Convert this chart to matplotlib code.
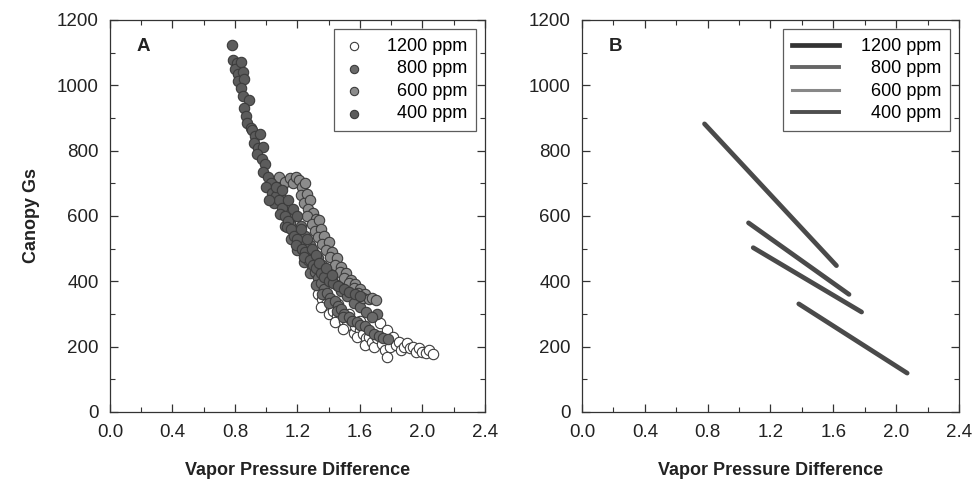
import matplotlib
matplotlib.use("Agg")
import matplotlib.pyplot as plt
from matplotlib.ticker import MultipleLocator

plt.rcParams['font.family'] = ['Liberation Sans', 'DejaVu Sans']

# ---- data ----
series_labels = ["1200 ppm", "800 ppm", "600 ppm", "400 ppm"]

# panel A: (vapor pressure difference, canopy Gs) scatter points
pts_1200 = [(1.33, 360), (1.36, 345), (1.38, 330), (1.41, 322), (1.40, 300), (1.43, 310),
            (1.45, 295), (1.47, 285), (1.44, 275), (1.50, 278), (1.52, 265), (1.54, 282),
            (1.49, 255), (1.56, 241), (1.57, 262), (1.60, 250), (1.58, 230), (1.62, 240),
            (1.64, 225), (1.63, 205), (1.66, 230), (1.68, 215), (1.69, 200), (1.71, 225),
            (1.73, 271), (1.74, 208), (1.76, 190), (1.77, 251), (1.77, 169), (1.79, 200),
            (1.81, 230), (1.83, 205), (1.85, 215), (1.86, 190), (1.88, 200), (1.90, 210),
            (1.92, 195), (1.94, 200), (1.96, 185), (1.98, 195), (2.00, 185), (2.02, 180),
            (2.04, 190), (2.07, 178), (1.35, 320), (1.46, 330), (1.53, 300), (1.60, 280)]

pts_800 = [(1.09, 660), (1.11, 630), (1.13, 600), (1.12, 570), (1.15, 580), (1.17, 555),
           (1.16, 530), (1.19, 540), (1.21, 515), (1.20, 495), (1.23, 500), (1.25, 480),
           (1.24, 460), (1.27, 465), (1.29, 445), (1.28, 425), (1.31, 430), (1.33, 410),
           (1.32, 390), (1.35, 395), (1.37, 378), (1.36, 360), (1.39, 365), (1.41, 350),
           (1.40, 335), (1.44, 340), (1.46, 325), (1.45, 310), (1.48, 315), (1.50, 300),
           (1.49, 290), (1.53, 292), (1.55, 280), (1.58, 275), (1.60, 265), (1.63, 262),
           (1.66, 250), (1.69, 240), (1.71, 300), (1.72, 232), (1.75, 228), (1.78, 222),
           (1.15, 620), (1.18, 600), (1.22, 570), (1.25, 540), (1.28, 510), (1.30, 490),
           (1.33, 470), (1.36, 450), (1.39, 430), (1.42, 410), (1.45, 390), (1.48, 370),
           (1.52, 355), (1.56, 335), (1.60, 320), (1.64, 305), (1.68, 290)]

pts_600 = [(1.06, 700), (1.08, 720), (1.10, 690), (1.12, 705), (1.15, 715), (1.17, 700),
           (1.19, 720), (1.21, 710), (1.23, 690), (1.25, 700), (1.22, 665), (1.26, 668),
           (1.24, 640), (1.28, 650), (1.27, 620), (1.30, 610), (1.26, 600), (1.32, 590),
           (1.29, 575), (1.34, 588), (1.31, 555), (1.35, 560), (1.33, 535), (1.37, 540),
           (1.36, 515), (1.40, 520), (1.38, 495), (1.42, 490), (1.41, 475), (1.45, 470),
           (1.44, 450), (1.48, 445), (1.47, 430), (1.51, 425), (1.50, 410), (1.54, 405),
           (1.53, 395), (1.57, 392), (1.56, 380), (1.60, 378), (1.59, 365), (1.63, 360),
           (1.62, 350), (1.66, 345), (1.68, 350), (1.70, 342)]

pts_400 = [(0.78, 1122), (0.79, 1078), (0.81, 1068), (0.80, 1050), (0.84, 1072), (0.82, 1035),
           (0.85, 1040), (0.82, 1012), (0.86, 1018), (0.84, 992), (0.85, 968), (0.89, 955),
           (0.86, 930), (0.87, 905), (0.88, 885), (0.90, 870), (0.91, 862), (0.93, 845),
           (0.96, 852), (0.92, 822), (0.95, 808), (0.98, 812), (0.94, 790), (0.97, 775),
           (0.99, 760), (0.98, 735), (1.01, 718), (1.03, 700), (1.00, 688), (1.04, 670),
           (1.06, 660), (1.05, 640), (1.08, 648), (1.10, 625), (1.09, 605), (1.12, 600),
           (1.14, 585), (1.13, 565), (1.16, 560), (1.18, 540), (1.20, 530), (1.19, 510),
           (1.23, 500), (1.25, 490), (1.24, 475), (1.28, 465), (1.30, 450), (1.32, 440),
           (1.35, 425), (1.37, 412), (1.40, 400), (1.43, 395), (1.46, 385), (1.50, 375),
           (1.53, 368), (1.57, 362), (1.60, 355), (1.02, 650), (1.06, 690), (1.10, 680),
           (1.14, 650), (1.17, 620), (1.20, 600), (1.22, 560), (1.26, 530), (1.29, 500),
           (1.32, 480), (1.34, 455), (1.38, 440), (1.42, 420)]

# panel B: regression line end points
line_1200 = [(1.38, 331), (2.07, 119)]
line_800 = [(1.09, 503), (1.78, 306)]
line_600 = [(1.06, 579), (1.70, 360)]
line_400 = [(0.78, 882), (1.62, 448)]

scatter_pts = [pts_1200, pts_800, pts_600, pts_400]
lines_b = [line_1200, line_800, line_600, line_400]
marker_faces = ["white", "#6a6a6a", "#8c8c8c", "#5c5c5c"]
line_colors = ["#333333", "#666666", "#888888", "#4e4e4e"]
line_widths = [3.4, 2.8, 2.2, 2.8]
# right-align legend text with figure spaces
leg_labels = ["1200 ppm", "\u2007800 ppm", "\u2007600 ppm", "\u2007400 ppm"]

fig = plt.figure(figsize=(9.75, 4.91), dpi=100)
axA = fig.add_axes([0.1128, 0.1609, 0.3846, 0.7984])
axB = fig.add_axes([0.5969, 0.1609, 0.3867, 0.7984])

for pts, fc, lab in zip(scatter_pts, marker_faces, leg_labels):
    xs = [p[0] for p in pts]
    ys = [p[1] for p in pts]
    axA.scatter(xs, ys, s=56, facecolor=fc, edgecolor="#3c3c3c", linewidth=0.8, label=lab, zorder=3)

for ln, c, lw, lab in zip(lines_b, line_colors, line_widths, leg_labels):
    axB.plot([ln[0][0], ln[1][0]], [ln[0][1], ln[1][1]], color="#4a4a4a", lw=3.4,
             solid_capstyle="round")
    axB.plot([], [], color=c, lw=lw, label=lab)

for ax, tag in [(axA, "A"), (axB, "B")]:
    ax.set_xlim(0, 2.4)
    ax.set_ylim(0, 1200)
    ax.xaxis.set_major_locator(MultipleLocator(0.4))
    ax.xaxis.set_minor_locator(MultipleLocator(0.2))
    ax.yaxis.set_major_locator(MultipleLocator(200))
    ax.yaxis.set_minor_locator(MultipleLocator(100))
    ax.xaxis.set_major_formatter(matplotlib.ticker.FormatStrFormatter("%.1f"))
    ax.tick_params(which="both", direction="in", top=True, right=True, colors="#333333",
                   labelcolor="#222222", labelsize=13.5)
    ax.tick_params(which="major", length=6, width=0.9)
    ax.tick_params(which="minor", length=3.5, width=0.8)
    ax.tick_params(axis="y", pad=8)
    ax.tick_params(axis="x", pad=9)
    for sp in ax.spines.values():
        sp.set_color("#333333")
        sp.set_linewidth(0.9)
    ax.set_xlabel("Vapor Pressure Difference", fontsize=13, fontweight="bold",
                  color="#222222", labelpad=15)
    ax.text(0.07, 0.955, tag, transform=ax.transAxes, fontsize=13.5, fontweight="bold",
            va="top", ha="left", color="#222222")
    leg = ax.legend(loc="upper right", fontsize=13, frameon=True, fancybox=False,
                    edgecolor="#333333", borderpad=0.5, labelspacing=0.3,
                    handletextpad=1.2, borderaxespad=0.5, markerscale=0.8,
                    handlelength=2.6 if ax is axB else 1.2)
    leg.get_frame().set_linewidth(0.9)

axA.set_ylabel("Canopy Gs", fontsize=13, fontweight="bold", color="#222222", labelpad=12)

fig.savefig("out.png", dpi=100, facecolor="white")
